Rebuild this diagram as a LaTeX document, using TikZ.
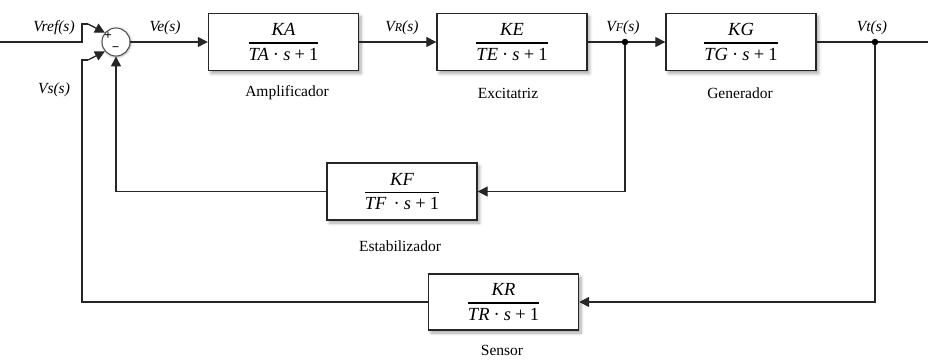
\documentclass[tikz,border=0pt]{standalone}
\usepackage{amsmath}
\usepackage{fontspec}
\setmainfont{Liberation Serif}
\usetikzlibrary{arrows.meta,shadows,shadows.blur}
\newcommand\tfun[2]{{\fontsize{18.5}{20}\selectfont$\genfrac{}{}{1.4pt}{0}{\hbox{\itshape #1}}{\hbox{\itshape #2\:\upshape·\:\itshape s\:\upshape+\:1}}$}}
\begin{document}
\begin{tikzpicture}[x=1pt,y=-1pt,
  blockbox/.style={draw=black!85, line width=1.4pt, fill=white, minimum width=150pt, minimum height=57pt, inner sep=0pt,
    blur shadow={shadow xshift=2.5pt, shadow yshift=-3pt, shadow blur steps=6, shadow blur radius=3pt, shadow opacity=35}},
  sumnode/.style={circle, draw=black!75, line width=0.9pt, fill=white, minimum size=28pt, inner sep=0pt,
    blur shadow={shadow xshift=0.5pt, shadow yshift=-0.5pt, shadow blur steps=6, shadow blur radius=2.5pt, shadow opacity=45}},
  sig/.style={line width=1.3pt, draw=black!85, -{Triangle[length=10pt,width=10pt]}},
  wire/.style={line width=1.3pt, draw=black!85},
  lbl/.style={font=\fontsize{15.5}{17}\selectfont\itshape, inner sep=0pt},
  blockcaption/.style={font=\fontsize{15.5}{17}\selectfont, inner sep=0pt},
  sgn/.style={font=\fontsize{13}{13}\selectfont\bfseries, inner sep=0pt},
  dot/.style={circle, fill=black, minimum size=6.5pt, inner sep=0pt}
]
\useasboundingbox (0,0) rectangle (928,360);
% blocks
\node[blockbox] (amp)  at (283.5,42) {\tfun{KA}{TA}};
\node[blockbox] (exc)  at (512,42)   {\tfun{KE}{TE}};
\node[blockbox] (gen)  at (741,42)   {\tfun{KG}{TG}};
\node[blockbox] (stab) at (402,191.5) {\tfun{KF}{TF\,}};
\node[blockbox, minimum height=56pt] (sens) at (503.5,302) {\tfun{KR}{TR}};
% sum
\node[sumnode] (sum) at (116,42) {};
\node[sgn] (plus) at (108,36) {+};
\node[sgn] (minus) at (115.5,49) {−};
% junctions
\node[dot] (vf) at (625,42) {};
\node[dot] (vt) at (875,42) {};
\coordinate (in) at (0,42);
\coordinate (ina) at (82,42);
\coordinate (inb) at (82,24);
\coordinate (inc) at (88,24);
\coordinate (out) at (928,42);
\coordinate (vsa) at (82,302);
\coordinate (vsb) at (82,60);
\coordinate (vsc) at (88,60);
% connectors
\draw[wire] (in) -- (ina) -- (inb) -- (inc);
\draw[sig] (inc) -- (sum.140);
\draw[wire] (sens.west) -- (vsa) -- (vsb) -- (vsc);
\draw[sig] (vsc) -- (sum.220);
\draw[sig] (sum) -- (amp);
\draw[sig] (amp) -- (exc);
\draw[wire] (exc) -- (vf);
\draw[sig] (vf) -- (gen);
\draw[wire] (gen) -- (vt) -- (out);
\draw[sig] (vf) |- (stab.east);
\draw[sig] (stab.west) -| (sum.south);
\draw[sig] (vt) |- (sens.east);
% signal labels
\node[lbl] (lref) at (54,28) {Vref(s)};
\node[lbl] (lvs) at (54,90) {Vs(s)};
\node[lbl] (lve) at (165,28) {Ve(s)};
\node[lbl] (lvr) at (402,28) {V{\fontsize{12}{13}\selectfont R}(s)};
\node[lbl] (lvf) at (623,28) {V{\fontsize{12}{13}\selectfont F}(s)};
\node[lbl] (lvt) at (872,28) {Vt(s)};
% block captions
\node[blockcaption] (camp) at (287,93) {Amplificador};
\node[blockcaption] (cexc) at (508,93) {Excitatriz};
\node[blockcaption] (cgen) at (740,93) {Generador};
\node[blockcaption] (cstab) at (400,246) {Estabilizador};
\node[blockcaption] (csens) at (502,350) {Sensor};
\end{tikzpicture}
\end{document}
